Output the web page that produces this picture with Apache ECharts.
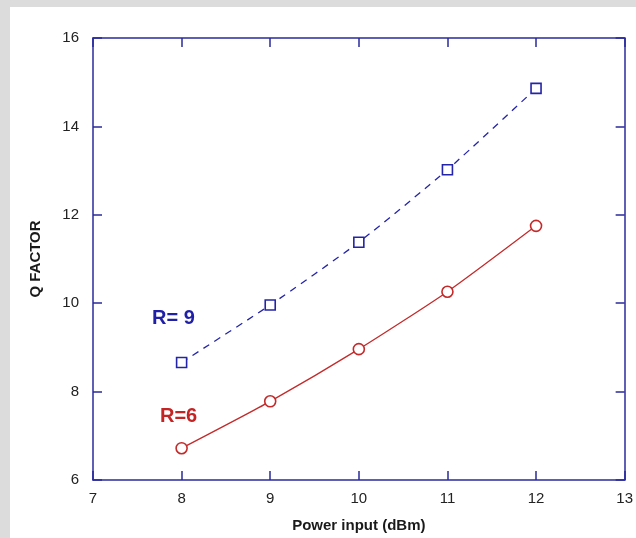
<!DOCTYPE html>
<html>
<head>
<meta charset="utf-8">
<title>Q factor</title>
<script src="https://cdn.jsdelivr.net/npm/echarts@6/dist/echarts.min.js"></script>
<style>
  * { margin: 0; padding: 0 }
  html, body { width: 100%; height: 100%; background: #dcdcdc; }
  #main { width: 636px; height: 538px; }
</style>
</head>
<body>
<div id="main"></div>
<script>
// data
var power = [8, 9, 10, 11, 12];
var qR9 = [8.66, 9.96, 11.38, 13.02, 14.86];
var qR6 = [6.72, 7.78, 8.96, 10.26, 11.75];
var axisColor = '#2a2a9c';

var chart = echarts.init(document.getElementById('main'));

function pairs(xs, ys) {
  var out = [];
  for (var i = 0; i < xs.length; i++) out.push([xs[i], ys[i]]);
  return out;
}

var baseX = {
  type: 'value', min: 7, max: 13, interval: 1,
  axisLine: { lineStyle: { color: axisColor, width: 1.5 } },
  axisTick: { inside: true, length: 9, lineStyle: { color: axisColor, width: 1.5 } },
  splitLine: { show: false }
};
var baseY = {
  type: 'value', min: 6, max: 16, interval: 2,
  axisLine: { lineStyle: { color: axisColor, width: 1.5 } },
  axisTick: { inside: true, length: 9, lineStyle: { color: axisColor, width: 1.5 } },
  splitLine: { show: false }
};

chart.setOption({
  backgroundColor: '#dcdcdc',
  animation: false,
  graphic: [{
    type: 'rect', z: -10, silent: true,
    shape: { x: 10, y: 7, width: 626, height: 531 },
    style: { fill: '#ffffff' }
  }, {
    type: 'text', left: 152, top: 308,
    style: { text: 'R= 9', fill: '#1f1fa8', font: 'bold 20px "Liberation Sans", Arial' }
  }, {
    type: 'text', left: 160, top: 406,
    style: { text: 'R=6', fill: '#c42424', font: 'bold 20px "Liberation Sans", Arial' }
  }],
  grid: { left: 93, right: 4, top: 38, bottom: 58 },
  xAxis: [
    Object.assign({}, baseX, {
      position: 'bottom',
      name: 'Power input (dBm)', nameLocation: 'middle', nameGap: 38,
      nameTextStyle: { fontFamily: 'Liberation Sans', fontWeight: 'bold', fontSize: 15, color: '#1a1a1a' },
      axisLabel: { fontFamily: 'Liberation Sans', fontSize: 15, color: '#222', margin: 11 }
    }),
    Object.assign({}, baseX, { position: 'top', axisLabel: { show: false } })
  ],
  yAxis: [
    Object.assign({}, baseY, {
      position: 'left',
      name: 'Q FACTOR', nameLocation: 'middle', nameGap: 50,
      nameTextStyle: { fontFamily: 'Liberation Sans', fontWeight: 'bold', fontSize: 15, color: '#1a1a1a' },
      axisLabel: { fontFamily: 'Liberation Sans', fontSize: 15, color: '#222', margin: 14 }
    }),
    Object.assign({}, baseY, { position: 'right', axisLabel: { show: false } })
  ],
  series: [{
    name: 'R=9', type: 'line', smooth: 0.2,
    data: pairs(power, qR9),
    symbol: 'rect', symbolSize: 10,
    lineStyle: { color: '#2424a8', width: 1.3, type: [7, 6] },
    itemStyle: { color: '#ffffff', borderColor: '#2424a8', borderWidth: 1.6 }
  }, {
    name: 'R=6', type: 'line', smooth: 0.2,
    data: pairs(power, qR6),
    symbol: 'circle', symbolSize: 11,
    lineStyle: { color: '#c42a2a', width: 1.3 },
    itemStyle: { color: '#ffffff', borderColor: '#c42a2a', borderWidth: 1.6 }
  }]
});
</script>
</body>
</html>
